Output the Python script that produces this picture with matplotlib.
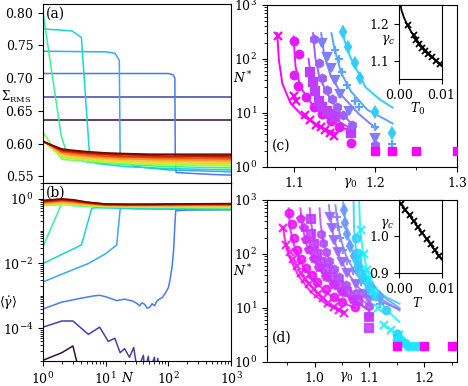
import numpy as np
import matplotlib
matplotlib.use("Agg")
import matplotlib.pyplot as plt
from matplotlib.ticker import FixedLocator, LogLocator, MultipleLocator, NullFormatter

plt.rcParams['font.family'] = 'DejaVu Serif'
plt.rcParams['mathtext.fontset'] = 'dejavuserif'
plt.rcParams['font.size'] = 9

# ---------------- panel (a) / (b): single (non-family) curves ----------------
a_N = [
    [1, 1000],
    [1, 1000],
    [1, 100, 120, 127, 129, 133, 200, 500, 1000],
    [1, 10, 14, 16.5, 17, 18, 30, 100, 1000],
    [1, 2.9, 4.1, 5.6, 7, 20, 100, 1000],
    [1, 1.95, 2.5, 5, 20, 100, 1000],
    [1, 2, 5, 20, 100, 1000],
]
a_S = [
    [0.636, 0.636],
    [0.671, 0.671],
    [0.707, 0.707, 0.705, 0.700, 0.580, 0.556, 0.555, 0.553, 0.552],
    [0.741, 0.740, 0.738, 0.727, 0.585, 0.575, 0.565, 0.560, 0.557],
    [0.775, 0.772, 0.762, 0.575, 0.570, 0.565, 0.562, 0.560],
    [0.800, 0.612, 0.580, 0.572, 0.568, 0.565, 0.563],
    [0.617, 0.576, 0.573, 0.570, 0.568, 0.566],
]

b_N = [
    [1, 2, 3, 4],
    [1, 2, 3, 5.3, 8, 11, 14, 17, 20, 24, 28, 32, 40, 42, 48, 50, 60, 62, 68, 70],
    [1, 2, 4, 6.3, 8, 10, 15, 20, 27, 31, 35, 38, 42, 46, 51, 55, 60, 66, 72, 80, 89,
     100, 106, 115, 122, 127, 131, 200, 1000],
    [1, 2, 5.3, 10, 15, 17, 18, 30, 100, 1000],
    [1, 4.1, 6, 7, 20, 100, 1000],
    [1, 2, 3, 10, 100, 1000],
    [1, 2, 3, 10, 100, 1000],
]
b_V = [
    [1.05e-5, 1.8e-5, 2.9e-5, 3e-6],
    [1.1e-4, 1.7e-4, 1.7e-4, 6.6e-5, 1.1e-4, 4e-5, 5e-5, 1.8e-5, 2.4e-5, 1.3e-5,
     2.6e-5, 5e-6, 1.5e-5, 5e-6, 1.4e-5, 5e-6, 1.3e-5, 5e-6, 1.2e-5, 3e-6],
    [4e-4, 6.5e-4, 8.5e-4, 1e-3, 1.05e-3, 9.5e-4, 7.2e-4, 8e-4, 7e-4, 6e-4, 5e-4,
     6.2e-4, 5.5e-4, 4.2e-4, 4.6e-4, 5.8e-4, 5e-4, 7e-4, 8e-4, 9e-4, 1.2e-3,
     1.8e-3, 3e-3, 8e-3, 0.03, 0.15, 0.42, 0.44, 0.45],
    [2.7e-3, 4.7e-3, 0.01, 0.02, 0.037, 0.46, 0.5, 0.48, 0.47, 0.46],
    [0.01, 0.037, 0.5, 0.52, 0.5, 0.49, 0.48],
    [0.033, 0.72, 0.6, 0.55, 0.52, 0.50],
    [0.6, 0.65, 0.62, 0.57, 0.54, 0.52],
]

# ---------------- panel (a) / (b): yielded family ----------------
fam_N = [1, 2, 3, 5, 10, 20, 50, 100, 300, 1000]
fam_S = [
    [0.604, 0.579, 0.577, 0.575, 0.572, 0.570, 0.569, 0.568, 0.567, 0.567],
    [0.604, 0.581, 0.578, 0.576, 0.573, 0.571, 0.570, 0.569, 0.569, 0.568],
    [0.604, 0.582, 0.579, 0.577, 0.575, 0.573, 0.572, 0.571, 0.570, 0.570],
    [0.604, 0.583, 0.581, 0.578, 0.576, 0.574, 0.573, 0.573, 0.572, 0.571],
    [0.604, 0.585, 0.582, 0.580, 0.577, 0.576, 0.575, 0.574, 0.574, 0.573],
    [0.604, 0.586, 0.583, 0.581, 0.579, 0.577, 0.576, 0.576, 0.575, 0.575],
    [0.604, 0.587, 0.585, 0.582, 0.580, 0.579, 0.578, 0.577, 0.577, 0.576],
    [0.604, 0.588, 0.586, 0.584, 0.581, 0.580, 0.579, 0.579, 0.578, 0.578],
    [0.604, 0.589, 0.587, 0.585, 0.583, 0.581, 0.580, 0.580, 0.580, 0.579],
    [0.604, 0.590, 0.588, 0.586, 0.584, 0.583, 0.582, 0.581, 0.581, 0.581],
    [0.603, 0.591, 0.589, 0.587, 0.585, 0.584, 0.583, 0.583, 0.582, 0.582],
    [0.603, 0.592, 0.590, 0.588, 0.586, 0.585, 0.584, 0.584, 0.584, 0.584],
]
fam_V = [
    [0.62, 0.66, 0.63, 0.60, 0.57, 0.56, 0.55, 0.55, 0.54, 0.54],
    [0.64, 0.69, 0.66, 0.62, 0.58, 0.57, 0.56, 0.56, 0.56, 0.56],
    [0.66, 0.72, 0.68, 0.64, 0.59, 0.58, 0.57, 0.57, 0.57, 0.57],
    [0.68, 0.75, 0.70, 0.65, 0.60, 0.59, 0.59, 0.59, 0.59, 0.59],
    [0.70, 0.78, 0.73, 0.67, 0.61, 0.60, 0.60, 0.60, 0.60, 0.60],
    [0.72, 0.81, 0.76, 0.69, 0.62, 0.61, 0.61, 0.61, 0.62, 0.62],
    [0.75, 0.84, 0.79, 0.71, 0.63, 0.62, 0.62, 0.63, 0.63, 0.63],
    [0.77, 0.87, 0.82, 0.72, 0.64, 0.63, 0.63, 0.64, 0.65, 0.65],
    [0.80, 0.90, 0.85, 0.74, 0.65, 0.64, 0.64, 0.65, 0.66, 0.66],
    [0.82, 0.93, 0.87, 0.75, 0.66, 0.65, 0.65, 0.66, 0.67, 0.68],
    [0.85, 0.95, 0.90, 0.77, 0.67, 0.66, 0.66, 0.67, 0.68, 0.69],
    [0.88, 0.98, 0.92, 0.78, 0.68, 0.67, 0.67, 0.68, 0.69, 0.70],
]

# ---------------- panel (c) ----------------
c_g = [
    [1.08, 1.10, 1.103, 1.114, 1.12, 1.127, 1.133, 1.138, 1.144, 1.149],
    [1.10, 1.106, 1.10, 1.105, 1.115, 1.125, 1.135, 1.145, 1.155, 1.17],
    [1.12, 1.123, 1.126, 1.131, 1.135, 1.14, 1.145, 1.15, 1.17],
    [1.1245, 1.1306, 1.1347, 1.141, 1.147, 1.153, 1.16, 1.1715, 1.20],
    [1.1347, 1.14, 1.145, 1.15, 1.157, 1.167, 1.20],
    [1.151, 1.155, 1.159, 1.165, 1.1755, 1.18, 1.20, 1.22],
    [1.1604, 1.166, 1.1755, 1.181, 1.20, 1.22],
]
c_N = [
    [265, 21, 17, 9.1, 7.4, 5.9, 5.4, 4.8, 4.3, 3.8],
    [218, 126, 50, 32, 20, 13, 9.5, 7, 5.5, 2.8],
    [58, 38, 25, 17, 13, 11, 9.5, 8.5, 4.2],
    [230, 83, 44, 27, 18, 13, 9, 5.9, 2.6],
    [200, 110, 67, 40, 22, 11, 3.4],
    [146, 100, 58, 33, 17, 13, 5.5, 2.7],
    [320, 170, 83, 44, 10.5, 4.2],
]
c_fit_g = [
    [1.0795, 1.0816, 1.0858, 1.096, 1.112, 1.141, 1.150],
    [1.0995, 1.102, 1.108, 1.1245, 1.153, 1.171],
    [1.118, 1.121, 1.127, 1.14, 1.155, 1.171],
    [1.1235, 1.126, 1.131, 1.14, 1.155, 1.171],
    [1.1335, 1.137, 1.145, 1.16, 1.18, 1.201],
    [1.146, 1.15, 1.158, 1.17, 1.19, 1.221],
    [1.1598, 1.162, 1.169, 1.1878, 1.205, 1.221],
]
c_fit_N = [
    [300, 96, 35, 15, 8.5, 4.8, 4.3],
    [260, 72, 30, 13, 6.3, 4.2],
    [100, 45, 22, 11, 7, 5.0],
    [300, 110, 48, 24, 11, 6.3],
    [300, 120, 50, 20, 9.5, 5.1],
    [300, 150, 55, 25, 11.5, 6.4],
    [400, 220, 110, 30, 18, 12.6],
]
c_floor_g = [1.2, 1.22, 1.25, 1.3]

# ---------------- panel (d) ----------------
d_g = [
    [0.943, 0.947, 0.955, 0.96, 0.967, 0.975, 0.983, 0.99, 0.998, 1.006, 1.015, 1.025,
     1.035, 1.045, 1.054],
    [0.954, 0.959, 0.962, 0.968, 0.975, 0.985, 0.995, 1.005, 1.02, 1.035, 1.05, 1.074],
    [0.9756, 0.98, 0.985, 0.99, 0.998, 1.008, 1.02, 1.035, 1.05, 1.07, 1.10],
    [0.9927, 0.993, 0.998, 1.005, 1.012, 1.02, 1.03, 1.045, 1.06, 1.08, 1.10, 1.10],
    [1.0122, 1.015, 1.02, 1.027, 1.035, 1.045, 1.058, 1.075, 1.10, 1.15],
    [1.028, 1.032, 1.036, 1.042, 1.05, 1.06, 1.075, 1.09, 1.10],
    [1.040, 1.043, 1.047, 1.052, 1.06, 1.07, 1.085, 1.10, 1.12],
    [1.0537, 1.056, 1.06, 1.065, 1.072, 1.08, 1.09, 1.105, 1.12],
    [1.075, 1.077, 1.077, 1.08, 1.085, 1.09, 1.10, 1.11, 1.13, 1.15, 1.15],
    [1.0842, 1.09, 1.095, 1.10, 1.106, 1.115, 1.127, 1.139, 1.154],
    [1.157, 1.165, 1.17, 1.18, 1.188],
]
d_N = [
    [300, 146, 107, 80, 60, 45, 35, 28, 22, 18, 15, 12.5, 10.5, 9.3, 8.2],
    [570, 352, 195, 120, 80, 55, 40, 30, 22, 16, 13, 10.5],
    [445, 300, 180, 120, 80, 55, 38, 27, 20, 14, 7],
    [445, 230, 150, 100, 72, 52, 38, 27, 20, 14, 6.8, 4.3],
    [230, 160, 110, 75, 52, 38, 27, 19, 11, 3.3],
    [490, 300, 180, 110, 70, 45, 28, 18, 14],
    [490, 320, 200, 120, 75, 48, 30, 20, 12],
    [650, 380, 230, 140, 90, 58, 38, 24, 16],
    [200, 103, 78, 60, 45, 35, 24, 17, 9, 3.3, 2.6],
    [280, 100, 50, 35, 21, 10, 4.8, 3.9, 3.2],
    [2.6, 2.2, 2.0, 2.0, 2.0],
]
d_fit_g = [
    [0.9425, 0.945, 0.9518, 0.97, 0.9927, 1.0234, 1.054],
    [0.9525, 0.955, 0.962, 0.975, 0.995, 1.025, 1.06, 1.075],
    [0.974, 0.977, 0.985, 1.0, 1.02, 1.05, 1.1],
    [0.991, 0.993, 1.0, 1.012, 1.03, 1.06, 1.1],
    [1.009, 1.011, 1.017, 1.028, 1.045, 1.07, 1.10],
    [1.026, 1.029, 1.035, 1.045, 1.06, 1.08, 1.10, 1.155],
    [1.038, 1.041, 1.047, 1.057, 1.072, 1.095, 1.125, 1.155],
    [1.052, 1.055, 1.06, 1.07, 1.085, 1.105, 1.13, 1.155],
    [1.071, 1.072, 1.075, 1.08, 1.09, 1.105, 1.13, 1.155],
    [1.081, 1.083, 1.088, 1.097, 1.11, 1.13, 1.155],
]
d_fit_N = [
    [320, 200, 96, 40, 20, 11.3, 8.5],
    [700, 300, 150, 70, 35, 18, 11.5, 10],
    [700, 350, 150, 70, 36, 19, 9],
    [700, 400, 150, 65, 33, 17, 9],
    [700, 350, 150, 70, 36, 19, 11],
    [800, 450, 200, 90, 45, 24, 16, 9.5],
    [800, 450, 200, 95, 48, 25, 14, 9],
    [900, 500, 230, 100, 50, 27, 15, 10],
    [1200, 300, 130, 70, 40, 25, 16, 12],
    [1200, 300, 110, 45, 20, 9.5, 5.5],
]
d_floor_g = [1.15, 1.2, 1.25]

# ---------------- insets ----------------
ic_T = [0.002, 0.0035, 0.004, 0.0048, 0.0055, 0.0061, 0.0069, 0.0077, 0.0087, 0.0096]
ic_g = [1.195, 1.168, 1.155, 1.145, 1.135, 1.126, 1.117, 1.110, 1.100, 1.090]
ic_fit_T = [0.0002, 0.0006, 0.0012, 0.002, 0.003, 0.0045, 0.006, 0.0075, 0.009, 0.01]
ic_fit_g = [1.26, 1.235, 1.215, 1.195, 1.175, 1.15, 1.13, 1.113, 1.097, 1.085]
id_T = [0.0005, 0.0015, 0.0025, 0.0035, 0.0045, 0.0055, 0.0065, 0.0075, 0.0085, 0.0095]
id_g = [1.088, 1.073, 1.057, 1.041, 1.025, 1.010, 0.994, 0.978, 0.962, 0.946]
id_fit_T = [0.0, 0.01]
id_fit_g = [1.096, 0.937]

turbo = plt.get_cmap('turbo')
cool = plt.get_cmap('cool')

fig = plt.figure(figsize=(4.68, 3.86), dpi=100)
ax_a = fig.add_axes([0.0919, 0.5259, 0.4017, 0.4637])
ax_b = fig.add_axes([0.0919, 0.0648, 0.4017, 0.4611], sharex=ax_a)
ax_c = fig.add_axes([0.5705, 0.5674, 0.406, 0.4197])
ax_d = fig.add_axes([0.5705, 0.0622, 0.406, 0.4197])

# (a) and (b)
single_t = [0.0, 0.07, 0.15, 0.22, 0.30, 0.38, 0.45]
for i in range(len(a_N)):
    ax_a.plot(a_N[i], a_S[i], color=turbo(single_t[i]), lw=1.1)
    ax_b.plot(b_N[i], b_V[i], color=turbo(single_t[i]), lw=1.1)
fam_t = np.linspace(0.5, 1.0, len(fam_S))
for i in range(len(fam_S)):
    ax_a.plot(fam_N, fam_S[i], color=turbo(fam_t[i]), lw=1.1)
    ax_b.plot(fam_N, fam_V[i], color=turbo(fam_t[i]), lw=1.1)

ax_a.set_xscale('log')
ax_a.set_xlim(1, 1000)
ax_a.set_ylim(0.54, 0.813)
ax_a.set_yticks([0.55, 0.60, 0.65, 0.70, 0.75, 0.80])
ax_a.yaxis.set_major_formatter(matplotlib.ticker.FormatStrFormatter('%.2f'))
ax_a.tick_params(labelbottom=False)

ax_b.set_yscale('log')
ax_b.set_ylim(1e-5, 3)
ax_b.yaxis.set_major_locator(FixedLocator([1e-4, 1e-2, 1]))
ax_b.yaxis.set_minor_locator(LogLocator(base=10, subs=np.arange(1, 10), numticks=20))
ax_b.yaxis.set_minor_formatter(NullFormatter())
ax_b.set_xticks([1, 10, 100, 1000])

# (c)
c_t = [1.0, 0.9, 0.75, 0.62, 0.5, 0.35, 0.2]
c_mk = ['x', 'o', 's', 'h', 'v', '+', 'd']
for i in range(len(c_g)):
    col = cool(c_t[i])
    ax_c.plot(c_fit_g[i], c_fit_N[i], color=col, lw=1.4, zorder=2)
    ax_c.plot(c_g[i], c_N[i], ls='none', marker=c_mk[i], color=col, ms=5.5, mew=1.6, zorder=3)
ax_c.plot(c_floor_g, [2] * len(c_floor_g), ls='none', marker='s', color=cool(1.0), ms=5.5, zorder=4)
ax_c.set_yscale('log')
ax_c.set_ylim(1, 1000)
ax_c.set_xlim(1.067, 1.30)
ax_c.set_xticks([1.1, 1.2, 1.3])
ax_c.xaxis.set_minor_locator(MultipleLocator(0.05))

# (d)
d_t = [1.0, 0.92, 0.85, 0.78, 0.7, 0.6, 0.5, 0.4, 0.18, 0.05, 0.1]
d_mk = ['x', 'o', 'p', 's', 'h', 'v', '+', 'd', 'o', 'x', 'o']
for i in range(len(d_fit_g)):
    ax_d.plot(d_fit_g[i], d_fit_N[i], color=cool(d_t[i]), lw=1.4, alpha=0.85, zorder=2)
for i in range(len(d_g)):
    ax_d.plot(d_g[i], d_N[i], ls='none', marker=d_mk[i], color=cool(d_t[i]), ms=5.5, mew=1.6,
              alpha=0.85, zorder=3)
ax_d.plot(d_floor_g, [2] * len(d_floor_g), ls='none', marker='s', color=cool(1.0), ms=5.5, zorder=4)
ax_d.set_yscale('log')
ax_d.set_ylim(1, 1000)
ax_d.set_xlim(0.913, 1.26)
ax_d.set_xticks([1.0, 1.1, 1.2])
ax_d.xaxis.set_minor_locator(MultipleLocator(0.05))

# insets
in_c = fig.add_axes([0.8526, 0.7953, 0.0908, 0.1917])
in_c.plot(ic_fit_T, ic_fit_g, color='k', lw=1.3)
in_c.plot(ic_T, ic_g, ls='none', marker='x', color='k', ms=5, mew=1.3)
in_c.set_xlim(0, 0.01)
in_c.set_ylim(1.05, 1.25)
in_c.set_xticks([0, 0.01])
in_c.set_xticklabels(['0.00', '0.01'])
in_c.set_yticks([1.1, 1.2])

in_d = fig.add_axes([0.8526, 0.2927, 0.0908, 0.1892])
in_d.plot(id_fit_T, id_fit_g, color='k', lw=1.3)
in_d.plot(id_T, id_g, ls='none', marker='x', color='k', ms=5, mew=1.3)
in_d.set_xlim(0, 0.01)
in_d.set_ylim(0.9, 1.099)
in_d.set_xticks([0, 0.01])
in_d.set_xticklabels(['0.00', '0.01'])
in_d.set_yticks([0.9, 1.0])

# labels
fig.text(0.034, 0.749, r'$\Sigma_{\rm RMS}$', ha='center', va='center', fontsize=8.5)
fig.text(0.018, 0.215, r'$\langle\dot{\gamma}\rangle$', ha='center', va='center', fontsize=9)
fig.text(0.274, 0.020, r'$N$', ha='center', va='center', fontsize=9)
fig.text(0.520, 0.798, r'$N^*$', ha='center', va='center', fontsize=9)
fig.text(0.748, 0.526, r'$\gamma_0$', ha='center', va='center', fontsize=9)
fig.text(0.520, 0.298, r'$N^*$', ha='center', va='center', fontsize=9)
fig.text(0.739, 0.024, r'$\gamma_0$', ha='center', va='center', fontsize=9)
fig.text(0.829, 0.896, r'$\gamma_c$', ha='center', va='center', fontsize=9)
fig.text(0.893, 0.718, r'$T_0$', ha='center', va='center', fontsize=9)
fig.text(0.827, 0.420, r'$\gamma_c$', ha='center', va='center', fontsize=9)
fig.text(0.893, 0.215, r'$T$', ha='center', va='center', fontsize=9)

fig.text(0.097, 0.964, '(a)', ha='left', va='center', fontsize=10)
fig.text(0.097, 0.500, '(b)', ha='left', va='center', fontsize=10)
fig.text(0.581, 0.622, '(c)', ha='left', va='center', fontsize=10)
fig.text(0.581, 0.124, '(d)', ha='left', va='center', fontsize=10)

fig.savefig('out.png', dpi=100)
